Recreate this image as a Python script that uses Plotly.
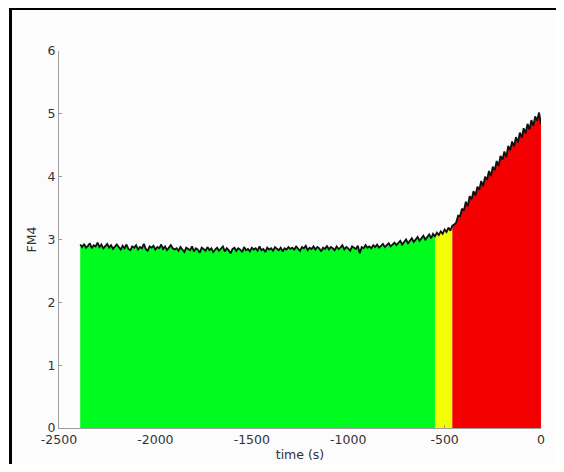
import plotly.graph_objects as go

# sampling grid (s)
time = list(range(-2390, 1, 10))

# FM4 values (10 s steps from -2390 to 0)
seg_a = [2.92, 2.88, 2.93, 2.87, 2.90, 2.94, 2.86, 2.91, 2.89, 2.95,
         2.88, 2.92, 2.86, 2.90, 2.93, 2.87, 2.91, 2.85, 2.89, 2.92]
seg_b = [2.88, 2.84, 2.90, 2.86, 2.92, 2.85, 2.83, 2.89, 2.87, 2.91,
         2.84, 2.88, 2.86, 2.93, 2.85, 2.82, 2.89, 2.87, 2.90, 2.84,
         2.88, 2.86, 2.92, 2.85, 2.89, 2.83, 2.87, 2.91, 2.86, 2.84]
seg_c = [2.86, 2.82, 2.88, 2.84, 2.80, 2.87, 2.85, 2.83, 2.89, 2.81,
         2.86, 2.84, 2.79, 2.87, 2.85, 2.82, 2.88, 2.83, 2.86, 2.80,
         2.84, 2.87, 2.82, 2.85, 2.89, 2.81, 2.86, 2.83, 2.78, 2.85,
         2.87, 2.82, 2.86, 2.84, 2.80, 2.88, 2.83, 2.85, 2.81, 2.87,
         2.84, 2.86, 2.82, 2.89, 2.83, 2.85, 2.80, 2.87, 2.84, 2.86,
         2.82, 2.88, 2.85, 2.83, 2.87, 2.81, 2.86, 2.84, 2.88, 2.85]
seg_d = [2.87, 2.84, 2.89, 2.85, 2.82, 2.88, 2.86, 2.90, 2.83, 2.87,
         2.85, 2.89, 2.84, 2.88, 2.86, 2.81, 2.87, 2.85, 2.90, 2.84,
         2.88, 2.86, 2.83, 2.89, 2.85, 2.87, 2.91, 2.84, 2.88, 2.86,
         2.82, 2.89, 2.87, 2.85, 2.90, 2.78, 2.88, 2.86, 2.91, 2.87]
seg_e = [2.89, 2.86, 2.91, 2.88, 2.92, 2.87, 2.90, 2.93, 2.88, 2.91,
         2.94, 2.89, 2.92, 2.95, 2.91]
seg_f = [2.94, 2.98, 2.92, 2.97, 3.00, 2.94, 2.99, 3.02, 2.96, 3.01,
         3.04, 2.98, 3.03, 3.06, 3.00, 3.05, 3.08, 3.02, 3.09]
seg_g = [3.05, 3.11, 3.07, 3.13, 3.09, 3.16, 3.12, 3.19, 3.14, 3.22, 3.24]
seg_h = [3.27, 3.38, 3.37, 3.49, 3.46, 3.60, 3.53, 3.69, 3.64, 3.77,
         3.70, 3.84, 3.79, 3.93, 3.85, 4.00, 3.95, 4.09, 4.01, 4.16,
         4.10, 4.25, 4.17, 4.33, 4.27, 4.40, 4.31, 4.49, 4.42, 4.56,
         4.48, 4.63, 4.54, 4.70, 4.62, 4.77, 4.69, 4.84, 4.75, 4.90,
         4.81, 4.96, 4.89, 5.02, 4.84]
fm4 = seg_a + seg_b + seg_c + seg_d + seg_e + seg_f + seg_g + seg_h

# zone boundaries (s)
green_end = -550
yellow_end = -460

x_ticks = [-2500, -2000, -1500, -1000, -500, 0]
x_tick_text = ["-2500", "-2000", "-1500", "-1000", "-500", "0"]
y_ticks = [0, 1, 2, 3, 4, 5, 6]

zones = [
    (time[0], green_end, "#00fb1f"),
    (green_end, yellow_end, "#f2ff00"),
    (yellow_end, time[-1], "#f50000"),
]

fig = go.Figure()
for lo, hi, col in zones:
    xs = [t for t in time if lo <= t <= hi]
    ys = [v for t, v in zip(time, fm4) if lo <= t <= hi]
    fig.add_trace(go.Scatter(x=xs, y=ys, mode="lines", fill="tozeroy",
                             fillcolor=col, line=dict(width=0, color=col),
                             hoverinfo="skip", showlegend=False))

fig.add_trace(go.Scatter(x=time, y=fm4, mode="lines",
                         line=dict(color="#111111", width=1.8),
                         showlegend=False))

font = dict(family="DejaVu Sans, Arial, sans-serif", size=12.5, color="#333333")

fig.update_layout(
    width=548, height=456,
    margin=dict(l=51, r=15, t=43, b=36, autoexpand=False),
    paper_bgcolor="white",
    plot_bgcolor="rgba(0,0,0,0)",
    font=font,
    showlegend=False,
    xaxis=dict(range=[-2500, 0], tickvals=x_ticks, ticktext=x_tick_text,
               ticks="inside", ticklen=3, tickcolor="#999999",
               showline=True, linecolor="#a0a0a0", linewidth=1,
               showgrid=False, zeroline=False, automargin=False,
               title=dict(text="time (s)", font=font, standoff=4)),
    yaxis=dict(range=[0, 6], tickvals=y_ticks,
               ticks="inside", ticklen=3, tickcolor="#999999",
               showline=True, linecolor="#a0a0a0", linewidth=1,
               showgrid=False, zeroline=False, automargin=False,
               title=dict(text="FM4", font=font, standoff=8)),
    shapes=[
        dict(type="rect", xref="paper", yref="paper",
             x0=-0.1006, x1=1.6, y0=-0.6, y1=1.1127,
             line=dict(width=0), fillcolor="#fcfcfc", layer="below"),
        dict(type="line", xref="paper", yref="paper",
             x0=-0.1006, x1=-0.1006, y0=-0.6, y1=1.1127,
             line=dict(color="black", width=3), layer="below"),
        dict(type="line", xref="paper", yref="paper",
             x0=-0.1037, x1=1.6, y0=1.1127, y1=1.1127,
             line=dict(color="black", width=3), layer="below"),
    ],
)

fig.write_html("out.html")
